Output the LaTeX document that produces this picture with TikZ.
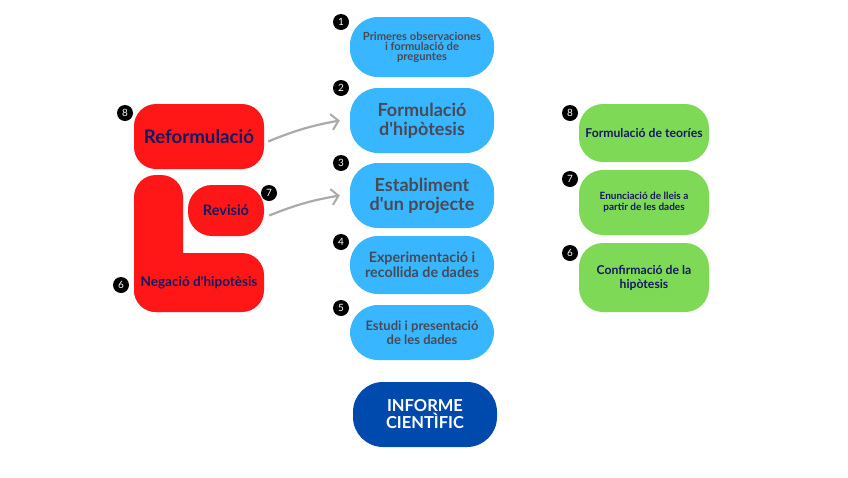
\documentclass[tikz,border=0pt]{standalone}
\usepackage{fontspec}
\setmainfont{Lato}
\usetikzlibrary{arrows.meta}
\definecolor{boxblue}{RGB}{56,182,255}
\definecolor{bluetext}{RGB}{72,74,85}
\definecolor{boxred}{RGB}{255,22,22}
\definecolor{navy}{RGB}{22,24,96}
\definecolor{boxgreen}{RGB}{126,217,87}
\definecolor{darkblue}{RGB}{0,74,173}
\definecolor{arrowgray}{RGB}{170,170,170}
\newcommand{\fsz}[2]{\bfseries\fontsize{#1}{#2}\selectfont}
\newcommand{\ap}{\textquotesingle}
\begin{document}
\begin{tikzpicture}[x=1pt,y=-1pt,
  base/.style={inner sep=0pt, align=center},
  bluebox/.style={base, fill=boxblue, text=bluetext, rounded corners=28pt, minimum width=144pt},
  greenbox/.style={base, fill=boxgreen, text=navy, rounded corners=24pt, minimum width=130pt},
  redbox/.style={base, fill=boxred, text=navy, rounded corners=22pt},
  num/.style={circle, fill=black, text=white, inner sep=0pt, minimum size=16pt, font=\fontsize{10}{10}\selectfont},
  arr/.style={draw=arrowgray, line width=2.2pt, -{Straight Barb[length=7pt,width=16pt,line width=2pt]}}
]
\useasboundingbox[fill=white] (0,0) rectangle (848,477);

% blue column
\node[bluebox, minimum height=60pt, font=\fsz{11.2}{10}] (b1) at (422,47) {Primeres observaciones\\ i formulació de\\ preguntes};
\node[bluebox, minimum height=65pt, font=\fsz{18}{19}] (b2) at (422,120.5) {Formulació\\ d\ap hipòtesis};
\node[bluebox, minimum height=65pt, font=\fsz{18}{19}] (b3) at (422,195.5) {Establiment\\ d\ap un projecte};
\node[bluebox, minimum height=58pt, font=\fsz{14.3}{15}] (b4) at (422,265) {Experimentació i\\ recollida de dades};
\node[bluebox, minimum height=55pt, font=\fsz{13}{13.5}] (b5) at (422,332.5) {Estudi i presentació\\ de les dades};
\node[base, fill=darkblue, text=white, rounded corners=30pt, minimum width=144pt, minimum height=65pt, font=\fsz{16.5}{17}] (inf) at (425,414.5) {INFORME\\ CIENTÌFIC};

\node[num] (n1) at (341,22) {1};
\node[num] (n2) at (341,88) {2};
\node[num] (n3) at (341,163) {3};
\node[num] (n4) at (341,242) {4};
\node[num] (n5) at (341,308) {5};

% green column
\node[greenbox, minimum height=58pt, font=\fsz{12.2}{12}] (g8) at (644,133) {Formulació de teoríes};
\node[greenbox, minimum height=65pt, font=\fsz{10}{11}] (g7) at (644,202.5) {Enunciació de lleis a\\ partir de les dades};
\node[greenbox, minimum height=69pt, font=\fsz{12.2}{14}] (g6) at (644,277.5) {Confirmació de la\\ hipòtesis};
\node[num] (m8) at (570,113) {8};
\node[num] (m7) at (570,179) {7};
\node[num] (m6) at (570,253) {6};

% red group
\node[redbox, minimum width=130pt, minimum height=65pt, font=\fsz{18.7}{19}] (reform) at (199,136.5) {Reformulació};
\fill[boxred, rounded corners=22pt] (134,175) rectangle (183,312);
\fill[boxred, rounded corners=22pt] (134,253) rectangle (264,312);
\node[base, text=navy, font=\fsz{13.5}{14}] (neg) at (199,283) {Negació d\ap hipotèsis};
\node[redbox, rounded corners=24pt, minimum width=76pt, minimum height=51pt, font=\fsz{14.5}{15}] (rev) at (226,210.5) {Revisió};
\node[num] (r8) at (125,113) {8};
\node[num] (r7) at (269,193) {7};
\node[num] (r6) at (121,285) {6};

% arrows
\draw[arr] ([xshift=4pt,yshift=-5pt]reform.east) to[bend left=6] ([xshift=-10pt]b2.west);
\draw[arr] ([xshift=5pt,yshift=-5pt]rev.east) to[bend left=6] ([xshift=-10pt]b3.west);
\end{tikzpicture}
\end{document}
